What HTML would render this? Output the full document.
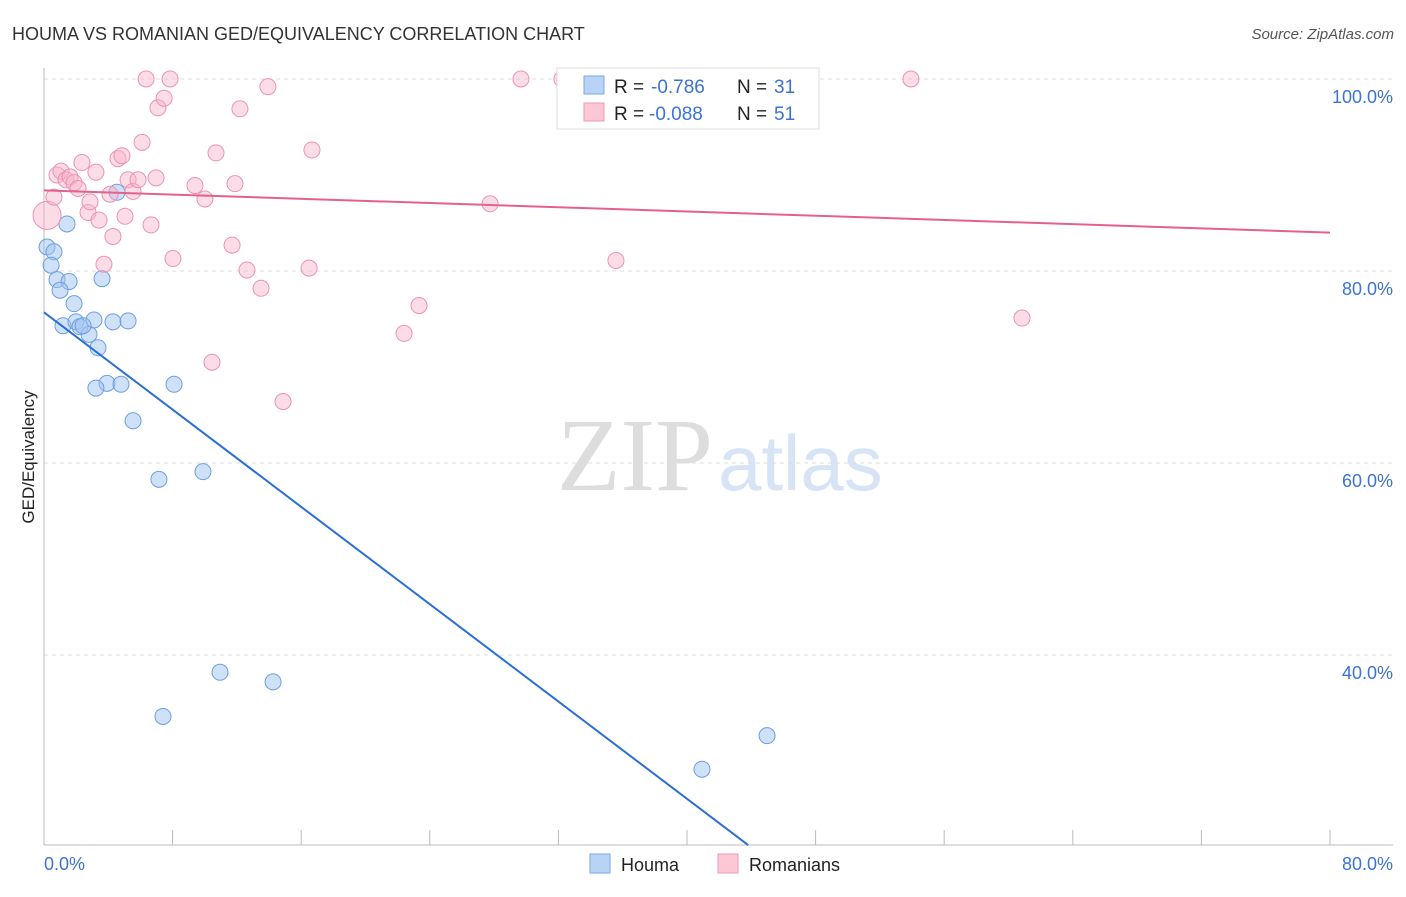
<!DOCTYPE html>
<html><head><meta charset="utf-8">
<style>
body{margin:0;background:#fff;font-family:"Liberation Sans",sans-serif}
svg text{font-family:"Liberation Sans",sans-serif}
</style></head><body>
<svg id="chart" width="1406" height="892" xmlns="http://www.w3.org/2000/svg">
<text x="12" y="40" font-size="18" fill="#333">HOUMA VS ROMANIAN GED/EQUIVALENCY CORRELATION CHART</text>
<text x="1394" y="39" font-size="15" fill="#555" text-anchor="end" font-style="italic">Source: ZipAtlas.com</text>
<text x="713" y="490" font-size="104" fill="#ddd" text-anchor="end" style="font-family:'Liberation Serif',serif">ZIP</text>
<text x="718" y="490" font-size="78" fill="#d6e4f5">atlas</text>
<g id="grid"></g>
<g id="axes"></g>
<g id="points"></g>
<g id="lines"></g>
<text transform="translate(34,457) rotate(-90)" font-size="17" fill="#222" text-anchor="middle">GED/Equivalency</text>
<text x="44" y="870" font-size="18" fill="#3b73d4">0.0%</text>
<text x="1393" y="870" font-size="18" fill="#3b73d4" text-anchor="end">80.0%</text>
<g>
<rect x="557" y="68" width="262" height="61" fill="#fff" stroke="#ddd"/>
<rect x="584" y="76" width="20" height="18" fill="#b8d3f5" stroke="#7aa8e6"/>
<rect x="584" y="103" width="20" height="18" fill="#fcc8d6" stroke="#ec9ab5"/>
<text x="614" y="93" font-size="19" fill="#222">R = </text><text x="651" y="93" font-size="19" fill="#3b73d4">-0.786</text>
<text x="737" y="93" font-size="19" fill="#222">N = </text><text x="774" y="93" font-size="19" fill="#3b73d4">31</text>
<text x="614" y="120" font-size="19" fill="#222">R = </text><text x="649" y="120" font-size="19" fill="#3b73d4">-0.088</text>
<text x="737" y="120" font-size="19" fill="#222">N = </text><text x="774" y="120" font-size="19" fill="#3b73d4">51</text>
</g>
<g>
<rect x="590" y="854" width="20" height="19" fill="#b8d3f5" stroke="#7aa8e6"/>
<text x="621" y="871" font-size="18" fill="#222">Houma</text>
<rect x="718" y="854" width="20" height="19" fill="#fcc8d6" stroke="#ec9ab5"/>
<text x="749" y="871" font-size="18" fill="#222">Romanians</text>
</g>
</svg>
<script>
const houmaX=[0.19,0.62,0.44,1.43,0.81,1.56,1.0,1.87,1.18,1.99,2.24,2.8,3.11,3.36,3.61,4.54,4.29,5.23,3.92,3.23,4.79,5.54,8.09,7.15,9.89,10.95,14.25,7.4,44.98,40.93,2.43];
const houmaY=[82.5,82.0,80.6,84.9,79.1,78.9,78.0,76.6,74.3,74.7,74.2,73.4,74.9,72.0,79.2,88.2,74.7,74.8,68.3,67.8,68.2,64.4,68.2,58.3,59.1,38.2,37.2,33.6,31.6,28.1,74.3];
const romX=[0.19,0.62,0.81,1.06,1.37,1.62,1.87,2.12,2.36,2.74,2.86,3.23,3.42,3.73,4.11,4.29,4.6,4.85,5.04,5.23,5.54,5.85,6.1,6.35,6.66,6.97,7.09,7.47,7.84,8.02,9.39,10.01,10.45,10.7,11.7,11.88,12.19,12.63,13.5,13.93,14.87,16.49,16.67,22.4,23.33,27.75,29.67,32.22,35.58,53.93,60.84];
const romY=[85.8,87.7,90.0,90.4,89.5,89.8,89.2,88.6,91.3,86.1,87.2,90.3,85.3,80.7,88.0,83.6,91.7,92.0,85.7,89.5,88.3,89.5,93.4,100,84.8,89.7,97.0,98.0,100,81.3,88.9,87.5,70.5,92.3,82.7,89.1,96.9,80.1,78.2,99.2,66.4,80.3,92.6,73.5,76.4,87.0,100,100,81.1,100,75.1];
const romSize=[14].concat(Array(50).fill(8));
const trendIntercept=[75.7,88.4];
const trendSlope=[-1.267,-0.055];
const yTicks=[100,80,60,40];
const yTickLabels=["100.0%","80.0%","60.0%","40.0%"];
const xTicks=[0,8,16,24,32,40,48,56,64,72,80];

const NS="http://www.w3.org/2000/svg";
const xs=v=>44+v*16.075;
const ys=v=>79+(100-v)*9.6;
function mk(tag,attrs,parent){const e=document.createElementNS(NS,tag);for(const k in attrs)e.setAttribute(k,attrs[k]);parent.appendChild(e);return e;}
const grid=document.getElementById('grid'),axes=document.getElementById('axes'),pts=document.getElementById('points'),lines=document.getElementById('lines');
yTicks.forEach((t,i)=>{
  const l=mk('line',{x1:44,x2:1393,y1:ys(t),y2:ys(t),stroke:'#ddd','stroke-dasharray':'4,4'},grid);
  
  
  const tx=mk('text',{x:1393,y:ys(t)+24,'font-size':18,fill:'#3b73d4','text-anchor':'end'},grid);
  tx.textContent=yTickLabels[i];
  
  
});
const ax=mk('line',{x1:44,x2:1393,y1:845,y2:845,stroke:'#bbb'},axes);


const ay=mk('line',{x1:44,x2:44,y1:68,y2:845,stroke:'#bbb'},axes);


xTicks.forEach(t=>{
  const l=mk('line',{x1:xs(t),x2:xs(t),y1:830,y2:845,stroke:'#bbb'},axes);
  
  
});
houmaX.forEach((x,i)=>{
  const c=mk('circle',{cx:xs(x),cy:ys(houmaY[i]),r:8,fill:'rgba(160,196,240,0.5)',stroke:'#6d9fe0','stroke-width':1},pts);
  
  
});
romX.forEach((x,i)=>{
  const c=mk('circle',{cx:xs(x),cy:ys(romY[i]),r:romSize[i],fill:'rgba(248,180,202,0.45)',stroke:'#eb93b0','stroke-width':1},pts);
  
  
});
const bEnd=(20.2-trendIntercept[0])/trendSlope[0];
const tb=mk('line',{x1:xs(0),y1:ys(trendIntercept[0]),x2:xs(bEnd),y2:ys(20.2),stroke:'#2a6fd6','stroke-width':2},lines);


const tp=mk('line',{x1:xs(0),y1:ys(trendIntercept[1]),x2:xs(80),y2:ys(trendIntercept[1]+trendSlope[1]*80),stroke:'#e4618e','stroke-width':2},lines);


</script>
</body></html>
